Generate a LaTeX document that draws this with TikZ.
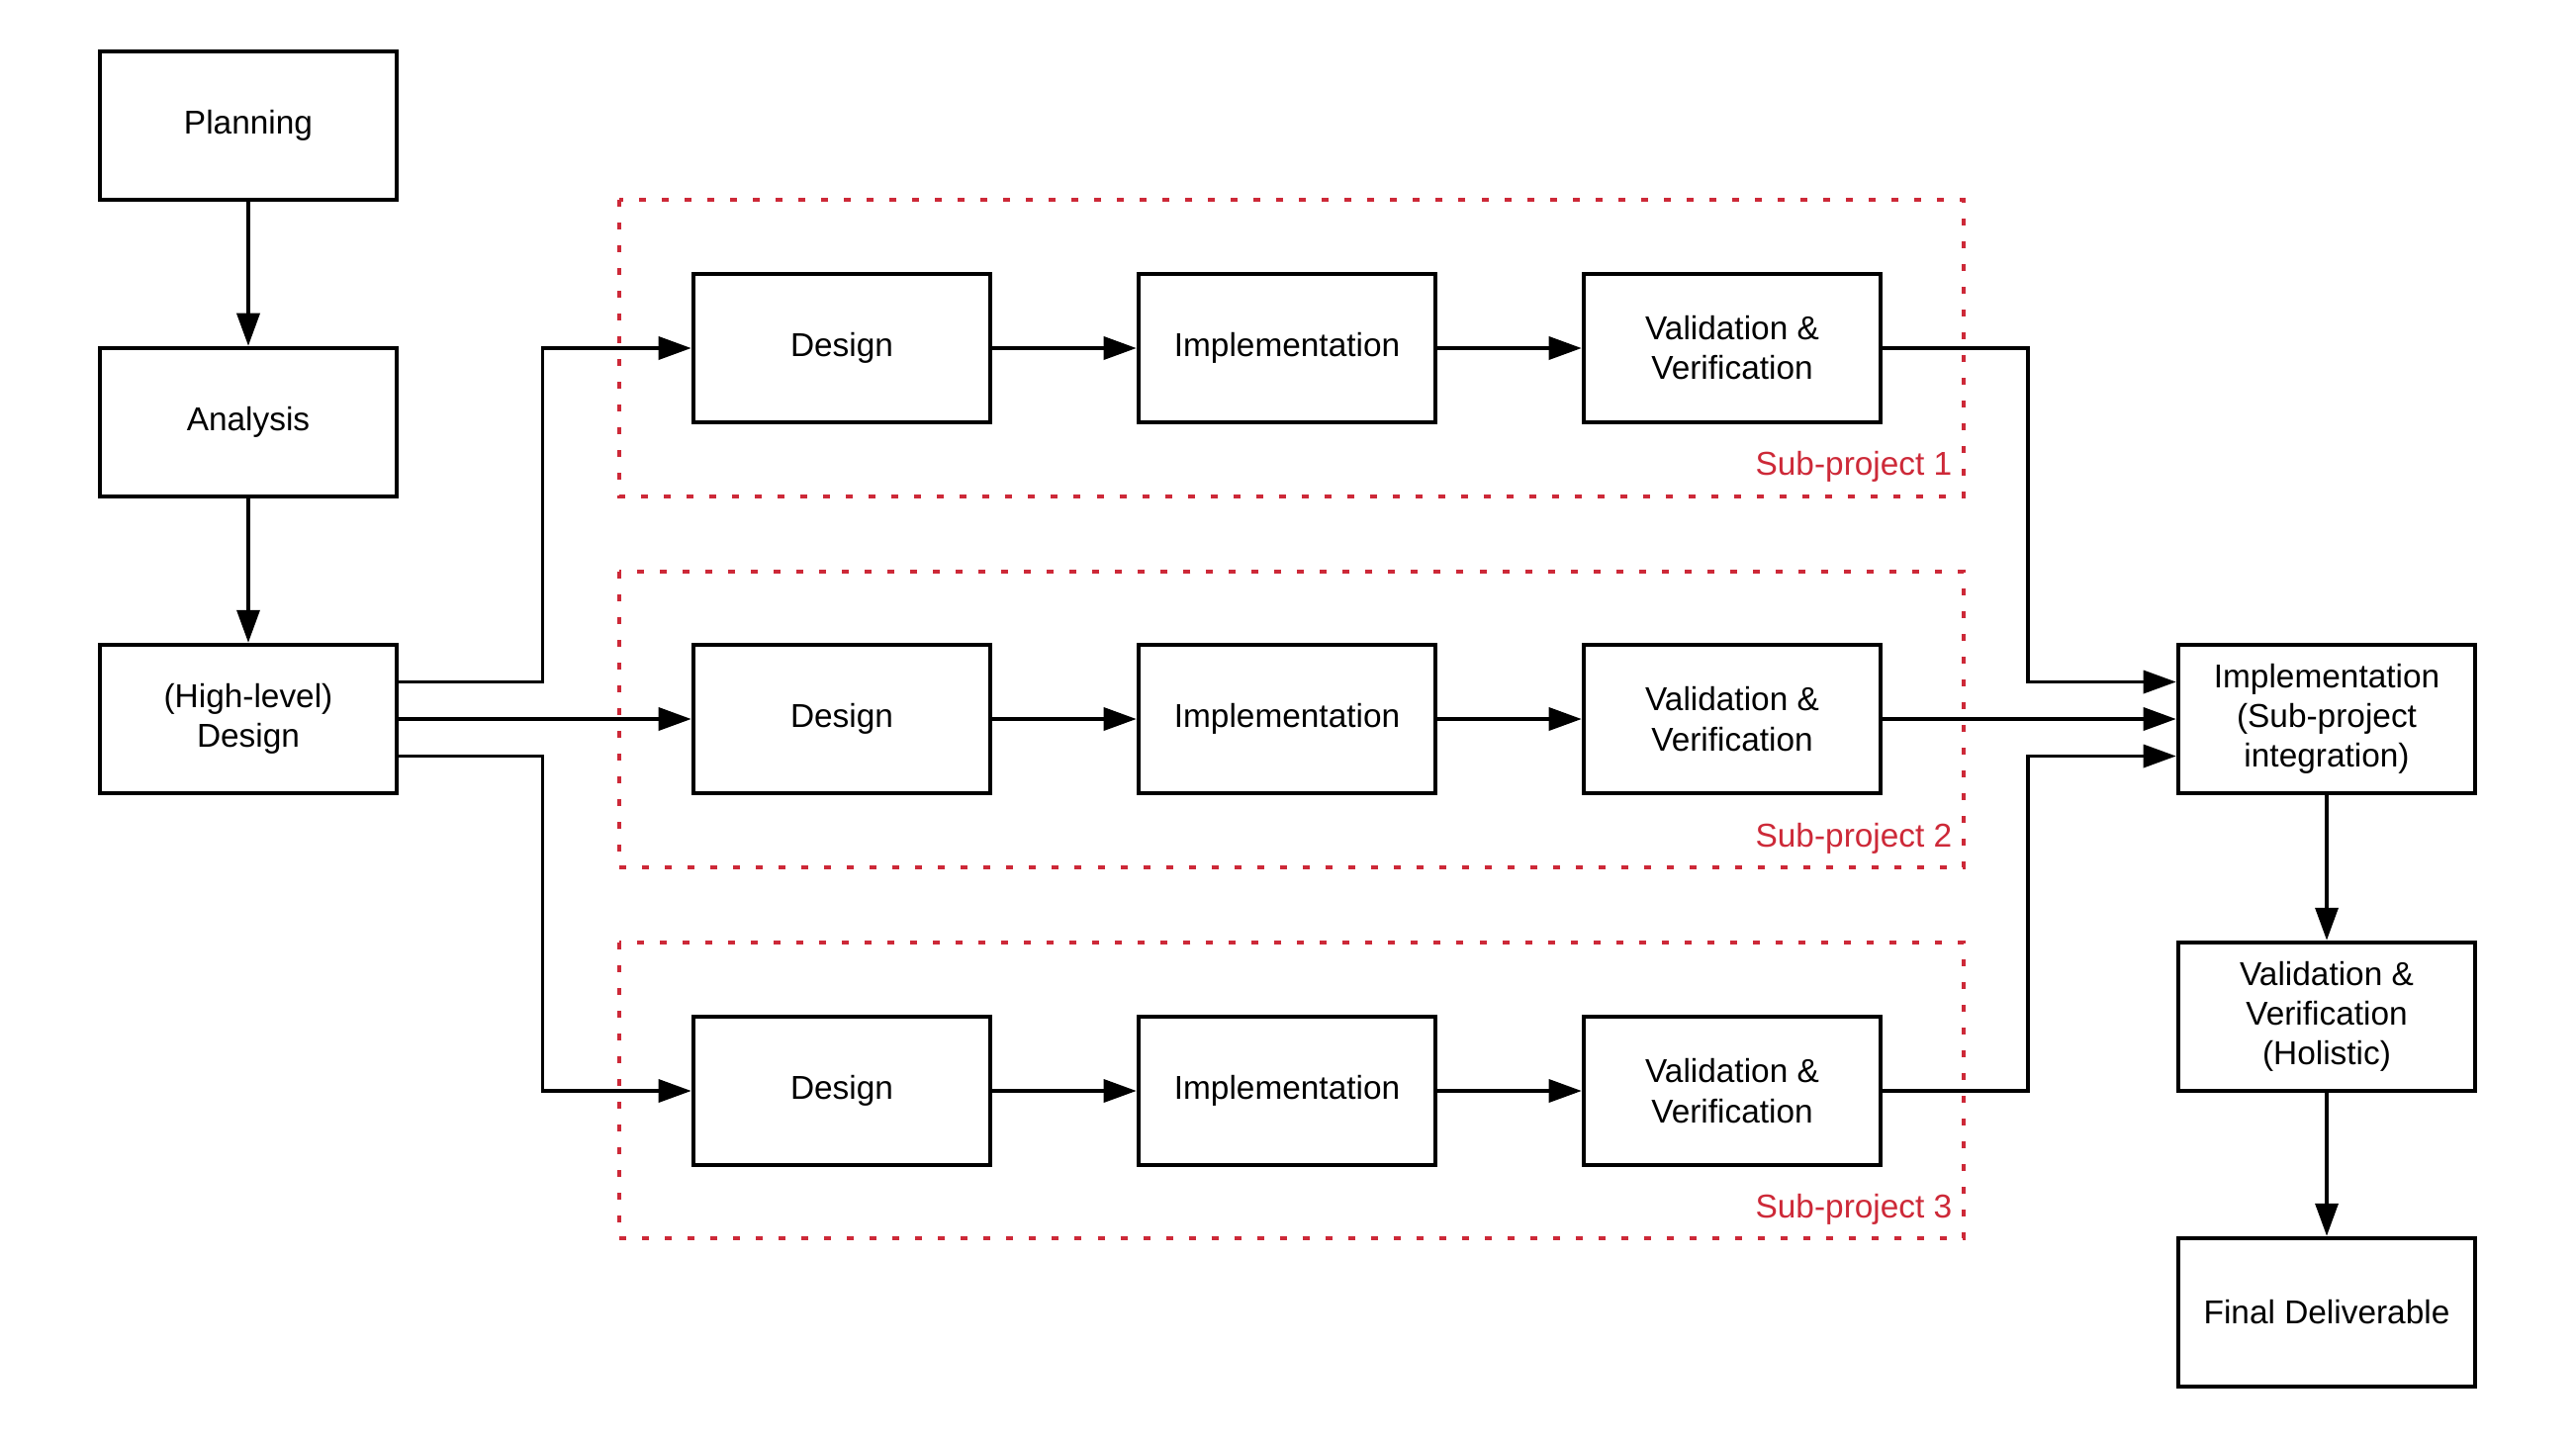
\documentclass[tikz,border=0pt]{standalone}
\usepackage{fontspec}
\setmainfont{Liberation Sans}
\usetikzlibrary{arrows.meta,calc}
\definecolor{spred}{RGB}{205,41,56}
\begin{document}
\begin{tikzpicture}[x=0.01cm,y=-0.01cm,
  box/.style={draw, line width=1.25pt, minimum width=3cm, minimum height=1.5cm, align=center, inner sep=0pt, font=\fontsize{9.5}{11.4}\selectfont},
  conn/.style={line width=1pt, -{Triangle[length=0.33cm,width=0.23cm]}},
  group/.style={draw=spred, line width=1.2pt, dash pattern=on 0.07cm off 0.16cm},
  lbl/.style={text=spred, anchor=east, inner sep=0pt, font=\fontsize{9.5}{11.4}\selectfont}]
\useasboundingbox (0,0) rectangle (2604,1454);
% groups
\draw[group] (626,202) rectangle (1985,502);
\draw[group] (626,578) rectangle (1985,877);
\draw[group] (626,953) rectangle (1985,1252);
\node[lbl] (l1) at (1974,472) {Sub-project 1};
\node[lbl] (l2) at (1974,848) {Sub-project 2};
\node[lbl] (l3) at (1974,1223) {Sub-project 3};
% left column
\node[box] (plan) at (251,127) {Planning};
\node[box] (ana) at (251,427) {Analysis};
\node[box] (hld) at (251,727) {(High-level)\\Design};
% rows
\node[box] (d1) at (851,352) {Design};
\node[box] (i1) at (1301,352) {Implementation};
\node[box] (v1) at (1751,352) {Validation \&\\Verification};
\node[box] (d2) at (851,727) {Design};
\node[box] (i2) at (1301,727) {Implementation};
\node[box] (v2) at (1751,727) {Validation \&\\Verification};
\node[box] (d3) at (851,1103) {Design};
\node[box] (i3) at (1301,1103) {Implementation};
\node[box] (v3) at (1751,1103) {Validation \&\\Verification};
% right column
\node[box] (int) at (2352,727) {Implementation\\(Sub-project\\integration)};
\node[box] (hol) at (2352,1028) {Validation \&\\Verification\\(Holistic)};
\node[box] (fin) at (2352,1327) {Final Deliverable};
% connectors
\draw[conn] (plan) -- (ana);
\draw[conn] (ana) -- (hld);
\draw[conn] ($(hld.east)+(0,-37.5)$) -| ($(d1.west)+(-150,0)$) -- (d1.west);
\draw[conn] (hld.east) -- (d2.west);
\draw[conn] ($(hld.east)+(0,37.5)$) -| ($(d3.west)+(-150,0)$) -- (d3.west);
\foreach \r in {1,2,3}{
  \draw[conn] (d\r) -- (i\r);
  \draw[conn] (i\r) -- (v\r);
}
\draw[conn] (v1.east) -| ($(int.west)+(-150,-37.5)$) -- ($(int.west)+(0,-37.5)$);
\draw[conn] (v2.east) -- (int.west);
\draw[conn] (v3.east) -| ($(int.west)+(-150,37.5)$) -- ($(int.west)+(0,37.5)$);
\draw[conn] (int) -- (hol);
\draw[conn] (hol) -- (fin);
\end{tikzpicture}
\end{document}
